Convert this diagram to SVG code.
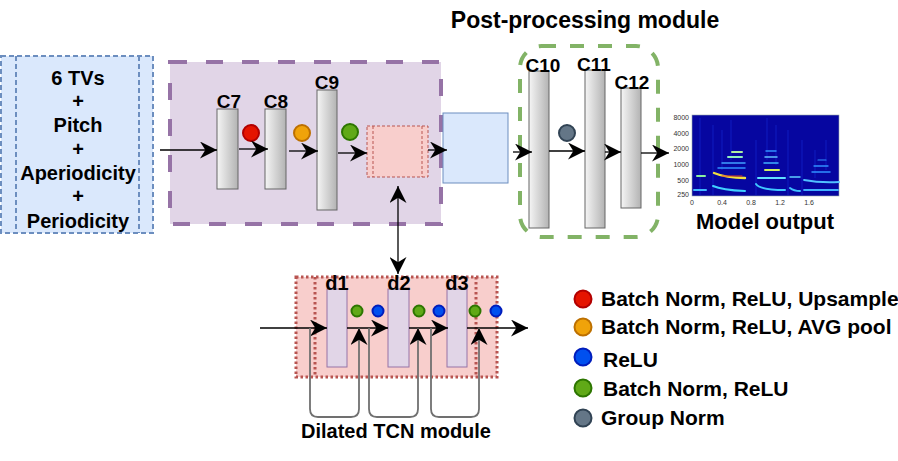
<svg xmlns="http://www.w3.org/2000/svg" width="898" height="461" viewBox="0 0 898 461">
<style>
.t{font-family:"Liberation Sans",Arial,sans-serif;font-weight:bold;fill:#000}
.ax{font-family:"Liberation Sans",Arial,sans-serif;font-size:7px;fill:#333}
.blk{fill:url(#g);stroke:#666;stroke-width:1}
.dblk{fill:#e1d5e7;stroke:#9673a6;stroke-width:1}
.ar{fill:none;stroke:#000;stroke-width:1.3;marker-end:url(#a)}
.loop{fill:none;stroke:#707070;stroke-width:1.8;marker-end:url(#a)}
.red{fill:#e51400;stroke:#b20000;stroke-width:2}
.org{fill:#f0a30a;stroke:#bd7000;stroke-width:2}
.grn{fill:#60a917;stroke:#2d7600;stroke-width:2}
.blu{fill:#0050ef;stroke:#001dbc;stroke-width:2}
.gry{fill:#647687;stroke:#314354;stroke-width:2}
</style>
<defs>
<linearGradient id="g" x1="0" y1="0" x2="1" y2="0">
<stop offset="0" stop-color="#f5f5f5"/>
<stop offset="1" stop-color="#b3b3b3"/>
</linearGradient>
<marker id="a" viewBox="0 0 16 16" markerWidth="17" markerHeight="17" refX="16" refY="8" orient="auto-start-reverse" markerUnits="userSpaceOnUse">
<path d="M0,0 L16,8 L0,16 L5,8 z" fill="#000"/>
</marker>
</defs>

<g id="input">
<rect x="1" y="56" width="152" height="177" fill="#dae8fc" stroke="#6c8ebf" stroke-width="2" stroke-dasharray="5 3"/>
<line x1="16" y1="56" x2="16" y2="233" stroke="#6c8ebf" stroke-width="2" stroke-dasharray="5 3"/>
<line x1="139" y1="56" x2="139" y2="233" stroke="#6c8ebf" stroke-width="2" stroke-dasharray="5 3"/>
<g class="t" font-size="20" text-anchor="middle">
<text x="78" y="85">6 TVs</text>
<text x="78" y="108">+</text>
<text x="78" y="132">Pitch</text>
<text x="78" y="156">+</text>
<text x="78" y="180">Aperiodicity</text>
<text x="78" y="203">+</text>
<text x="78" y="228">Periodicity</text>
</g>
</g>

<g id="encoder">
<rect x="170" y="62" width="271" height="162" fill="#e1d5e7" stroke="#9673a6" stroke-width="4" stroke-dasharray="17 19"/>
</g>

<g id="C7"><rect class="blk" x="217" y="109" width="21" height="80"/><text class="t" font-size="19" x="229" y="108" text-anchor="middle">C7</text></g>
<g id="C8"><rect class="blk" x="265" y="109" width="21" height="80"/><text class="t" font-size="19" x="276" y="108" text-anchor="middle">C8</text></g>
<g id="C9"><rect class="blk" x="317" y="90" width="20" height="120"/><text class="t" font-size="19" x="327" y="89" text-anchor="middle">C9</text></g>
<g id="bn1"><circle class="red" cx="251" cy="133" r="8"/></g>
<g id="bn2"><circle class="org" cx="302" cy="133" r="8"/></g>
<g id="bn3"><circle class="grn" cx="350" cy="132" r="8"/></g>

<g id="tcn-slot">
<rect x="367" y="126" width="61" height="51" fill="#f8cecc" stroke="#b85450" stroke-width="1" stroke-dasharray="3 2"/>
<line x1="373" y1="126" x2="373" y2="177" stroke="#b85450" stroke-width="1" stroke-dasharray="3 2"/>
<line x1="422" y1="126" x2="422" y2="177" stroke="#b85450" stroke-width="1" stroke-dasharray="3 2"/>
</g>

<g id="bridge"><rect x="443" y="113" width="65" height="70" fill="#dae8fc" stroke="#6c8ebf" stroke-width="1"/></g>

<g id="post">
<rect x="520" y="46" width="138" height="191" rx="22" ry="22" fill="none" stroke="#82b366" stroke-width="4" stroke-dasharray="14 14"/>
<text class="t" font-size="23" x="585" y="28" text-anchor="middle">Post-processing module</text>
</g>
<g id="C10"><rect class="blk" x="529" y="71" width="20" height="157"/><text class="t" font-size="19" x="543" y="72" text-anchor="middle">C10</text></g>
<g id="C11"><rect class="blk" x="585" y="70" width="20" height="158"/><text class="t" font-size="19" x="594" y="71" text-anchor="middle">C11</text></g>
<g id="C12"><rect class="blk" x="621" y="88" width="20" height="120"/><text class="t" font-size="19" x="632" y="89" text-anchor="middle">C12</text></g>
<g id="gn"><circle class="gry" cx="567" cy="133" r="8"/></g>

<g id="output">
<rect x="692" y="115" width="147" height="81" fill="#0606a0" stroke="#9aa" stroke-width="0.6"/>
<g fill="none" stroke="#1c3cf0" stroke-width="1.2" opacity="0.35">
<path d="M700,118 V195"/><path d="M713,125 V195"/><path d="M722,130 V170"/><path d="M731,120 V160"/>
<path d="M756,140 V195"/><path d="M767,118 V160"/><path d="M776,125 V165"/><path d="M788,130 V195"/>
<path d="M802,140 V195"/><path d="M815,150 V178"/><path d="M826,140 V170"/>
</g>
<g fill="none" stroke-linecap="round">
<path d="M694,190 H706" stroke="#40b8ff" stroke-width="2"/>
<path d="M697,176 H705" stroke="#8af0a0" stroke-width="2"/>
<path d="M713,186 Q722,190 745,191" stroke="#40d0ff" stroke-width="2"/>
<path d="M714,173 Q726,178 745,178" stroke="#f0e040" stroke-width="2.4"/>
<path d="M722,176 H742" stroke="#e04020" stroke-width="1"/>
<path d="M718,168 H745" stroke="#3090ff" stroke-width="1.5"/>
<path d="M722,163 H745" stroke="#40a0ff" stroke-width="1.5"/>
<path d="M728,157 H742" stroke="#90f0c0" stroke-width="2"/>
<path d="M732,152 H742" stroke="#b0f0a0" stroke-width="2"/>
<path d="M756,184 Q760,190 785,190" stroke="#40c8ff" stroke-width="2"/>
<path d="M758,178 H785" stroke="#60e0ff" stroke-width="2"/>
<path d="M765,170 H779" stroke="#d0f060" stroke-width="2"/>
<path d="M764,163 H778" stroke="#40b0ff" stroke-width="1.5"/>
<path d="M765,157 H777" stroke="#60c0ff" stroke-width="1.5"/>
<path d="M766,151 H776" stroke="#3090ff" stroke-width="1.5"/>
<path d="M790,188 Q794,191 800,191" stroke="#40c0ff" stroke-width="2"/>
<path d="M790,177 H800" stroke="#60d0ff" stroke-width="1.5"/>
<path d="M804,190 H838" stroke="#40b0ff" stroke-width="1.8"/>
<path d="M804,180 Q820,183 839,182" stroke="#50c0ff" stroke-width="1.8"/>
<path d="M812,172 H830" stroke="#3090ff" stroke-width="1.5"/>
<path d="M814,166 H828" stroke="#3090ff" stroke-width="1.3"/>
<path d="M818,160 H826" stroke="#3090ff" stroke-width="1.2"/>
</g>
<g class="ax" text-anchor="end">
<text x="689" y="119.5">8000</text>
<text x="689" y="135.5">4000</text>
<text x="689" y="150.5">2000</text>
<text x="689" y="166.5">1000</text>
<text x="689" y="182.5">500</text>
<text x="689" y="197">250</text>
</g>
<g class="ax" text-anchor="middle">
<text x="692" y="205">0</text>
<text x="722" y="205">0.4</text>
<text x="751" y="205">0.8</text>
<text x="780" y="205">1.2</text>
<text x="809" y="205">1.6</text>
</g>
<text class="t" font-size="22" x="765" y="229" text-anchor="middle">Model output</text>
</g>

<g id="tcn">
<rect x="296" y="277" width="201" height="100" fill="#f8cecc" stroke="#b85450" stroke-width="3" stroke-dasharray="2.5 2.5"/>
<line x1="315" y1="277" x2="315" y2="377" stroke="#b85450" stroke-width="3" stroke-dasharray="2.5 2.5"/>
<line x1="476" y1="277" x2="476" y2="377" stroke="#b85450" stroke-width="3" stroke-dasharray="2.5 2.5"/>
<text class="t" font-size="20" x="396" y="438" text-anchor="middle">Dilated TCN module</text>
</g>
<g id="d1"><rect class="dblk" x="327" y="289" width="20" height="78"/><text class="t" font-size="20" x="337" y="290" text-anchor="middle">d1</text></g>
<g id="d2"><rect class="dblk" x="388" y="289" width="21" height="78"/><text class="t" font-size="20" x="399" y="290" text-anchor="middle">d2</text></g>
<g id="d3"><rect class="dblk" x="447" y="289" width="20" height="78"/><text class="t" font-size="20" x="457" y="290" text-anchor="middle">d3</text></g>
<g id="tcn-acts">
<circle class="grn" cx="357" cy="311" r="5.5"/>
<circle class="blu" cx="378" cy="311" r="5.5"/>
<circle class="grn" cx="419" cy="311" r="5.5"/>
<circle class="blu" cx="439" cy="311" r="5.5"/>
<circle class="grn" cx="475" cy="311" r="5.5"/>
<circle class="blu" cx="496" cy="311" r="5.5"/>
</g>

<g id="legend">
<circle class="red" cx="583" cy="299" r="8.5"/>
<circle class="org" cx="583" cy="327" r="8.5"/>
<circle class="blu" cx="583" cy="357" r="8.5"/>
<circle class="grn" cx="583" cy="388" r="8.5"/>
<circle class="gry" cx="583" cy="418" r="8.5"/>
<g class="t" font-size="21">
<text x="601" y="306">Batch Norm, ReLU, Upsample</text>
<text x="601" y="334">Batch Norm, ReLU, AVG pool</text>
<text x="603" y="367">ReLU</text>
<text x="603" y="396">Batch Norm, ReLU</text>
<text x="601" y="425">Group Norm</text>
</g>
</g>

<g id="connectors">
<path class="ar" d="M160,150 H217"/>
<path class="ar" d="M239,149 H268"/>
<path class="ar" d="M289,151 H318"/>
<path class="ar" d="M338,153 H367"/>
<path class="ar" d="M428,150 H447"/>
<path class="ar" d="M513,152 H532"/>
<path class="ar" d="M549,151 H585"/>
<path class="ar" d="M605,152 H621"/>
<path class="ar" d="M641,153 H669"/>
<path class="ar" d="M398,186 V274" style="marker-start:url(#a)"/>
<path class="ar" d="M260,328 H327"/>
<path class="ar" d="M347,328 H388"/>
<path class="ar" d="M409,328 H448"/>
<path class="ar" d="M467,328 H528"/>
<path class="loop" d="M310,328 V409 Q310,417 318,417 H351 Q359,417 359,409 V328"/>
<path class="loop" d="M369,328 V409 Q369,417 377,417 H410 Q418,417 418,409 V328"/>
<path class="loop" d="M431,328 V409 Q431,417 439,417 H471 Q479,417 479,409 V328"/>
</g>
</svg>
